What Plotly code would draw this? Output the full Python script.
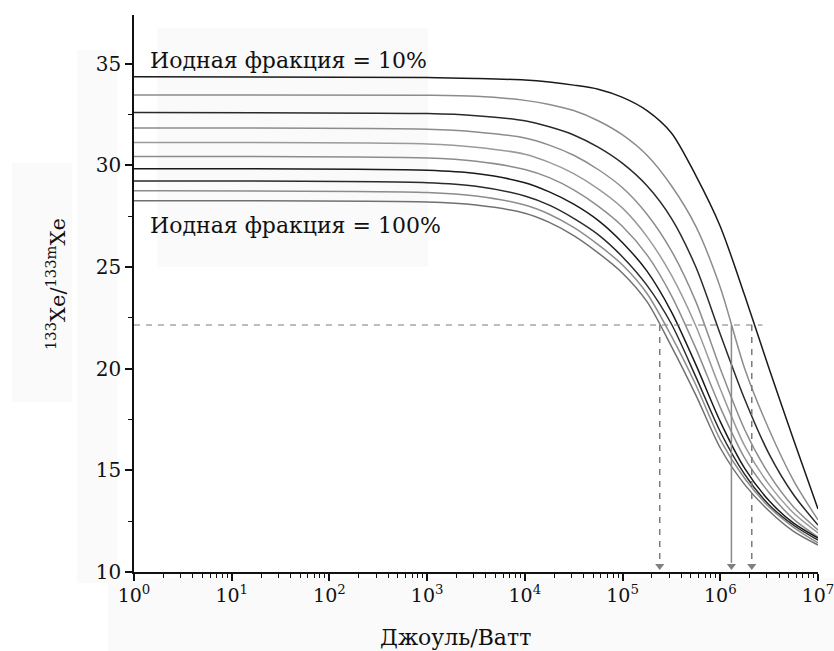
import plotly.graph_objects as go

# Energy grid (Joule/Watt)
energy = [1, 1e3, 10**3.5, 1e4, 10**4.25, 10**4.5, 10**4.75, 1e5, 10**5.25,
          10**5.5, 10**5.75, 1e6, 10**6.25, 10**6.5, 10**6.75, 1e7]

# 133Xe/133mXe ratio curves, iodine fraction 10% ... 100%
frac_10 = [34.36, 34.33, 34.28, 34.2, 34.1, 33.95, 33.75, 33.35, 32.7, 31.6, 29.5, 27.0, 23.6, 20.0, 16.5, 13.1]
frac_20 = [33.47, 33.45, 33.4, 33.2, 33.0, 32.7, 32.2, 31.5, 30.5, 29.0, 27.0, 24.0, 20.0, 17.0, 14.5, 12.56]
frac_30 = [32.60, 32.55, 32.45, 32.2, 31.9, 31.5, 30.9, 30.1, 29.0, 27.4, 25.0, 21.7, 18.5, 15.8, 13.8, 12.31]
frac_40 = [31.84, 31.78, 31.65, 31.35, 31.0, 30.5, 29.8, 28.9, 27.6, 25.8, 23.3, 20.0, 17.0, 14.8, 13.2, 12.07]
frac_50 = [31.13, 31.06, 30.9, 30.55, 30.15, 29.6, 28.85, 27.9, 26.5, 24.6, 22.1, 19.0, 16.2, 14.3, 12.9, 11.92]
frac_60 = [30.44, 30.36, 30.2, 29.8, 29.4, 28.8, 28.0, 27.0, 25.6, 23.6, 21.0, 18.1, 15.6, 13.9, 12.6, 11.72]
frac_70 = [29.84, 29.76, 29.6, 29.15, 28.7, 28.1, 27.3, 26.2, 24.8, 22.8, 20.2, 17.4, 15.1, 13.5, 12.4, 11.67]
frac_80 = [29.24, 29.15, 28.98, 28.5, 28.05, 27.4, 26.6, 25.5, 24.1, 22.2, 19.6, 16.9, 14.8, 13.3, 12.3, 11.57]
frac_90 = [28.75, 28.67, 28.5, 28.05, 27.6, 26.95, 26.1, 25.1, 23.7, 21.6, 19.2, 16.5, 14.6, 13.2, 12.2, 11.43]
frac_100 = [28.26, 28.2, 28.05, 27.65, 27.2, 26.55, 25.7, 24.7, 23.3, 21.1, 18.7, 16.1, 14.3, 13.0, 12.0, 11.33]

series = [frac_10, frac_20, frac_30, frac_40, frac_50, frac_60, frac_70, frac_80, frac_90, frac_100]
series_colors = ["#1a1a1a", "#8c8c8c", "#2a2a2a", "#8c8c8c", "#9a9a9a",
                 "#8c8c8c", "#1a1a1a", "#2a2a2a", "#8c8c8c", "#707070"]

# Reference level and read-off energies
ratio_level = 22.15
level_x_start = 1
level_x_end = 2.7e6
arrow_dashed = [2.4e5, 2.1e6]
arrow_solid = [1.3e6]
axis_floor = 10

x_tickvals = [1, 10, 100, 1e3, 1e4, 1e5, 1e6, 1e7]
x_ticktext = ["10<sup>0</sup>", "10<sup>1</sup>", "10<sup>2</sup>", "10<sup>3</sup>",
              "10<sup>4</sup>", "10<sup>5</sup>", "10<sup>6</sup>", "10<sup>7</sup>"]

label_top = "Иодная фракция = 10%"
label_bottom = "Иодная фракция = 100%"
x_title = "Джоуль/Ватт"
y_title = "<sup>133</sup>Xe/<sup>133m</sup>Xe"

FONT = "DejaVu Serif"

fig = go.Figure()

for vals, col in zip(series, series_colors):
    fig.add_trace(go.Scatter(x=energy, y=vals, mode="lines",
                             line=dict(color=col, width=1.5, shape="spline", smoothing=0.8),
                             showlegend=False, hoverinfo="skip"))

# dashed horizontal level
fig.add_trace(go.Scatter(x=[level_x_start, level_x_end], y=[ratio_level, ratio_level],
                         mode="lines", line=dict(color="#7a7a7a", width=1.2, dash="6px,6px"),
                         showlegend=False, hoverinfo="skip"))
# dashed verticals
for xv in arrow_dashed:
    fig.add_trace(go.Scatter(x=[xv, xv], y=[ratio_level, axis_floor + 0.45],
                             mode="lines", line=dict(color="#7a7a7a", width=1.5, dash="6px,6px"),
                             showlegend=False, hoverinfo="skip"))
for xv in arrow_solid:
    fig.add_trace(go.Scatter(x=[xv, xv], y=[ratio_level, axis_floor + 0.45],
                             mode="lines", line=dict(color="#8a8a8a", width=1.5),
                             showlegend=False, hoverinfo="skip"))
# arrow heads
fig.add_trace(go.Scatter(x=arrow_dashed + arrow_solid,
                         y=[axis_floor + 0.3] * (len(arrow_dashed) + len(arrow_solid)),
                         mode="markers",
                         marker=dict(symbol="triangle-down", size=8, color="#808080"),
                         showlegend=False, hoverinfo="skip"))

# faint scan background patches
for (x0, y0, x1, y1) in [(12, 163, 72, 402), (77, 50, 117, 583),
                         (157, 28, 428, 267), (108, 578, 834, 651)]:
    fig.add_shape(type="rect", xref="paper", yref="paper",
                  x0=(x0 - 134) / 684, x1=(x1 - 134) / 684,
                  y0=(572 - y1) / 557, y1=(572 - y0) / 557,
                  fillcolor="#fafafa", line=dict(width=0), layer="below")

fig.add_annotation(text=label_top, xref="paper", yref="y", x=(148 - 134) / 684, y=35.15,
                   xanchor="left", yanchor="middle", showarrow=False,
                   font=dict(family=FONT, size=22, color="#111"))
fig.add_annotation(text=label_bottom, xref="paper", yref="y", x=(148 - 134) / 684, y=27.05,
                   xanchor="left", yanchor="middle", showarrow=False,
                   font=dict(family=FONT, size=22, color="#111"))
fig.add_annotation(text=y_title, xref="paper", yref="paper", x=(56 - 134) / 684,
                   y=(572 - 284) / 557, textangle=-90, xanchor="center", yanchor="middle",
                   showarrow=False, font=dict(family=FONT, size=21, color="#111"))
fig.add_annotation(text=x_title, xref="paper", yref="paper", x=(455 - 134) / 684,
                   y=-(637 - 572) / 557, xanchor="center", yanchor="middle",
                   showarrow=False, font=dict(family=FONT, size=22, color="#111"))

fig.update_layout(
    width=834, height=651,
    margin=dict(l=134, r=16, t=15, b=79, autoexpand=False),
    paper_bgcolor="white", plot_bgcolor="rgba(0,0,0,0)",
    font=dict(family=FONT, size=20, color="#111"),
)
fig.update_xaxes(type="log", range=[0, 7], tickvals=x_tickvals, ticktext=x_ticktext,
                 automargin=False, ticklabeloverflow="allow", ticklabelstandoff=-2,
                 showgrid=False, zeroline=False, showline=True, linecolor="#111", linewidth=1.5,
                 ticks="outside", ticklen=7, tickwidth=1.5, tickcolor="#111",
                 minor=dict(ticks="outside", ticklen=4, tickwidth=1.2, tickcolor="#111", dtick="D1", showgrid=False),
                 tickfont=dict(family=FONT, size=19))
fig.update_yaxes(range=[10, 37.4], dtick=5, tick0=10, automargin=False,
                 showgrid=False, zeroline=False, showline=True, linecolor="#111", linewidth=1.5,
                 ticks="outside", ticklen=7, tickwidth=1.5, tickcolor="#111",
                 minor=dict(ticks="outside", ticklen=4, tickwidth=1.2, tickcolor="#111", dtick=2.5, showgrid=False),
                 tickfont=dict(family=FONT, size=20))

fig.write_html("out.html")
